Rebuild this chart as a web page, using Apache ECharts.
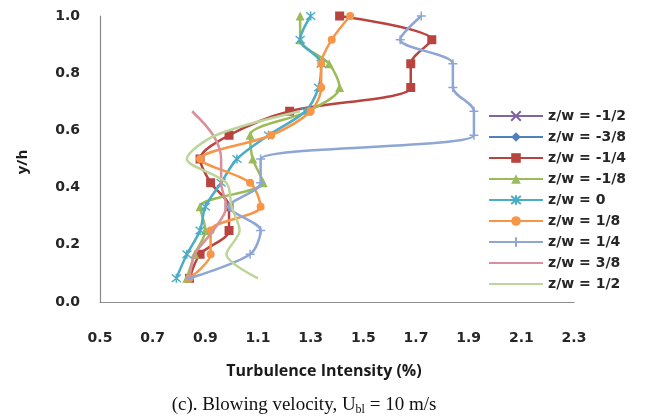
<!DOCTYPE html>
<html><head><meta charset="utf-8">
<script src="https://cdn.jsdelivr.net/npm/echarts@6/dist/echarts.min.js"></script>
<style>html,body{margin:0;padding:0;background:#fff}#c{width:661px;height:418px}</style>
</head><body><div id="c"></div>
<script>
// y/h levels (shared by every series)
var yLevels = [0.083, 0.167, 0.25, 0.333, 0.417, 0.5, 0.583, 0.667, 0.75, 0.833, 0.917, 1.0];
var seriesNames = ['z/w = -1/2','z/w = -3/8','z/w = -1/4','z/w = -1/8','z/w = 0','z/w = 1/8','z/w = 1/4','z/w = 3/8','z/w = 1/2'];
// turbulence intensity (%) at each level, bottom to top
var tiM12 = [];
var tiM38 = [];
var tiM14 = [0.84, 0.88, 0.99, 0.99, 0.92, 0.88, 0.99, 1.22, 1.68, 1.68, 1.76, 1.41];
var tiM18 = [0.83, 0.86, 0.90, 0.88, 1.12, 1.08, 1.07, 1.29, 1.41, 1.37, 1.26, 1.26];
var tiZ0  = [0.79, 0.83, 0.88, 0.90, 0.96, 1.02, 1.14, 1.28, 1.33, 1.34, 1.26, 1.30];
var tiP18 = [0.84, 0.92, 0.92, 1.11, 1.07, 0.88, 1.15, 1.30, 1.34, 1.34, 1.38, 1.45];
var tiP14 = [0.84, 1.07, 1.11, 0.99, 1.11, 1.11, 1.92, 1.92, 1.84, 1.84, 1.64, 1.72];
var tiP38 = [0.84, 0.86, 0.93, 0.98, 0.96, 0.96, 0.93, 0.85];
var tiP12 = [1.10, 0.98, 1.03, 1.00, 0.98, 0.83, 0.94, 1.26];
var xTicks = [0.5, 0.7, 0.9, 1.1, 1.3, 1.5, 1.7, 1.9, 2.1, 2.3];
var yTicks = [0.0, 0.2, 0.4, 0.6, 0.8, 1.0];

function pts(arr){ return arr.map(function(v,i){ return [v, yLevels[i]]; }); }

var colors = ['#8064A2','#4F81BD','#B9433F','#9BBB59','#4BACC6','#F79646','#8DA6D4','#D8919B','#BCD59A'];
var symX = 'path://M0,0L10,10M10,0L0,10';
var symAst = 'path://M0,0L10,10M10,0L0,10M5,-1L5,11';
var symPlus = 'path://M5,0L5,10M0,5L10,5';
var dataArr = [tiM12, tiM38, tiM14, tiM18, tiZ0, tiP18, tiP14, tiP38, tiP12];
var symbols = [symX, 'diamond', 'rect', 'triangle', symAst, 'circle', symPlus, 'none', 'none'];
var sizes = [9, 8, 9, 9, 9, 8, 9, 0, 0];
var stroked = [true, false, false, false, true, false, true, false, false];

var series = seriesNames.map(function(n, i){
  var st = { color: colors[i] };
  if (stroked[i]) { st.borderColor = colors[i]; st.borderWidth = 1.5; st.color = 'rgba(0,0,0,0)'; }
  return {
    name: n, type: 'line', data: pts(dataArr[i]), smooth: 0.3,
    symbol: symbols[i], symbolSize: sizes[i], showSymbol: symbols[i] !== 'none',
    lineStyle: { color: colors[i], width: 2.5 },
    itemStyle: st, z: 2 + i
  };
});

var legendData = seriesNames.map(function(n, i){
  return symbols[i] === 'none' ? { name: n, itemStyle: { opacity: 0 } } : { name: n };
});

var chart = echarts.init(document.getElementById('c'), null, {renderer:'canvas'});
chart.setOption({
  animation: false,
  color: colors,
  grid: { left: 100, right: 87, top: 16, bottom: 116, containLabel: false },
  xAxis: {
    type: 'value', min: 0.5, max: 2.3, interval: 0.2,
    axisLine: { show: true, lineStyle: { color: '#8a8a8a', width: 1.2 } },
    axisTick: { show: false }, splitLine: { show: false },
    axisLabel: { margin: 29, fontFamily: 'DejaVu Sans', fontWeight: 'bold', fontSize: 14, color: '#262626',
      formatter: function(v){ return v.toFixed(1); } }
  },
  yAxis: {
    type: 'value', min: 0, max: 1.0, interval: 0.2,
    axisLine: { show: true, lineStyle: { color: '#8a8a8a', width: 1.2 } },
    axisTick: { show: false }, splitLine: { show: false },
    axisLabel: { margin: 20, fontFamily: 'DejaVu Sans', fontWeight: 'bold', fontSize: 14, color: '#262626',
      formatter: function(v){ return v.toFixed(1); } }
  },
  legend: {
    orient: 'vertical', left: 488, top: 108, padding: 0, itemWidth: 54, itemHeight: 12, itemGap: 5,
    data: legendData,
    textStyle: { fontFamily: 'DejaVu Sans', fontWeight: 'bold', fontSize: 14, color: '#262626', lineHeight: 16 }
  },
  graphic: [
    { type: 'text', x: 324, y: 371,
      style: { text: 'Turbulence Intensity (%)', fontFamily: 'Open Sans', fontWeight: 'bold', fontSize: 16, fill: '#1a1a1a', align: 'center', verticalAlign: 'middle' } },
    { type: 'text', x: 23, y: 162, rotation: Math.PI/2,
      style: { text: 'y/h', fontFamily: 'Open Sans', fontWeight: 'bold', fontSize: 15, fill: '#1a1a1a', align: 'center', verticalAlign: 'middle' } },
    { type: 'text', x: 304, y: 405,
      style: { text: '{a|(c). Blowing velocity, U}{s|bl}{a| = 10 m/s}', align: 'center', verticalAlign: 'middle',
        rich: { a: { fontFamily: 'Liberation Serif', fontSize: 19, fill: '#111' },
                s: { fontFamily: 'Liberation Serif', fontSize: 12, fill: '#111', padding: [9,0,0,0] } } } }
  ],
  series: series
});
</script></body></html>
